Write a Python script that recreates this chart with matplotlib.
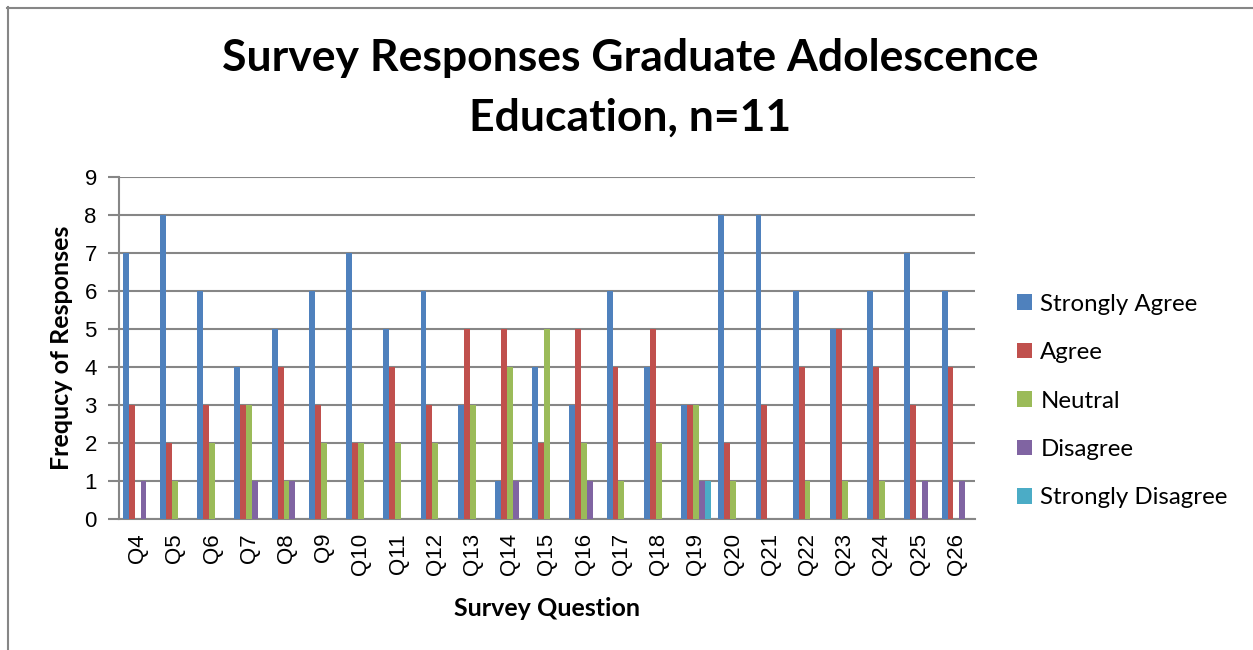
import matplotlib
matplotlib.use("Agg")
import matplotlib.pyplot as plt
import numpy as np
from matplotlib.lines import Line2D

questions = ["Q4", "Q5", "Q6", "Q7", "Q8", "Q9", "Q10", "Q11", "Q12", "Q13", "Q14", "Q15",
             "Q16", "Q17", "Q18", "Q19", "Q20", "Q21", "Q22", "Q23", "Q24", "Q25", "Q26"]
strongly_agree = [7, 8, 6, 4, 5, 6, 7, 5, 6, 3, 1, 4, 3, 6, 4, 3, 8, 8, 6, 5, 6, 7, 6]
agree = [3, 2, 3, 3, 4, 3, 2, 4, 3, 5, 5, 2, 5, 4, 5, 3, 2, 3, 4, 5, 4, 3, 4]
neutral = [0, 1, 2, 3, 1, 2, 2, 2, 2, 3, 4, 5, 2, 1, 2, 3, 1, 0, 1, 1, 1, 0, 0]
disagree = [1, 0, 0, 1, 1, 0, 0, 0, 0, 0, 1, 0, 1, 0, 0, 1, 0, 0, 0, 0, 0, 1, 1]
strongly_disagree = [0, 0, 0, 0, 0, 0, 0, 0, 0, 0, 0, 0, 0, 0, 0, 1, 0, 0, 0, 0, 0, 0, 0]
series_names = ["Strongly Agree", "Agree", "Neutral", "Disagree", "Strongly Disagree"]
series_colors = ["#4F81BD", "#C0504D", "#9BBB59", "#8064A2", "#4BACC6"]
y_ticks = list(range(0, 10))

W, H = 1253, 650
fig = plt.figure(figsize=(W / 100, H / 100), dpi=100)
fig.patch.set_facecolor("white")

# chart border (top and left visible)
fig.add_artist(Line2D([7 / W, 1.0], [1 - 7.5 / H, 1 - 7.5 / H], transform=fig.transFigure,
                      color="#868686", lw=1.5))
fig.add_artist(Line2D([7.5 / W, 7.5 / W], [0, 1 - 7 / H], transform=fig.transFigure,
                      color="#868686", lw=1.5))

ax = fig.add_axes([119 / W, (H - 519) / H, (975 - 119) / W, (519 - 177) / H])

x = np.arange(len(questions))
w = 0.159
all_series = [strongly_agree, agree, neutral, disagree, strongly_disagree]
handles = []
for i, (vals, name, col) in enumerate(zip(all_series, series_names, series_colors)):
    b = ax.bar(x + (i - 2) * w, vals, width=w, color=col, label=name, zorder=3,
               edgecolor="none")
    handles.append(b)

ax.set_xlim(-0.5, len(questions) - 0.5)
ax.set_ylim(0, 9)
ax.set_yticks(y_ticks)
ax.set_yticklabels([str(v) for v in y_ticks], fontsize=16, family="Liberation Sans")
ax.set_xticks(x)
ax.set_xticklabels(questions, rotation=90, fontsize=16, family="Liberation Sans")
ax.tick_params(axis="x", length=0, pad=10)
ax.tick_params(axis="y", length=8, width=1.5, color="#868686", pad=8)

ax.grid(axis="y", color="#868686", lw=1.5, zorder=0)
for s in ["top", "right"]:
    ax.spines[s].set_visible(False)
for s in ["left", "bottom"]:
    ax.spines[s].set_color("#868686")
    ax.spines[s].set_linewidth(1.5)

ax.set_ylabel("Frequcy of Responses", fontsize=18, fontweight="bold", family="Lato", labelpad=8)
ax.set_xlabel("Survey Question", fontsize=18, fontweight="bold", family="Lato", labelpad=16)

fig.text(630 / W, 1 - 58 / H, "Survey Responses Graduate Adolescence", ha="center", va="center",
         fontsize=32, fontweight="bold", family="Lato")
fig.text(630 / W, 1 - 118 / H, "Education, n=11", ha="center", va="center",
         fontsize=32, fontweight="bold", family="Lato")

leg = fig.legend(handles=handles, labels=series_names, loc="center left",
                 bbox_to_anchor=(1017 / W, 1 - 401 / H), frameon=False,
                 prop={"family": "Lato", "size": 17.3}, handlelength=0.62, handleheight=0.62,
                 handletextpad=0.35, labelspacing=1.14, borderpad=0, borderaxespad=0)

fig.savefig("out.png", dpi=100)
